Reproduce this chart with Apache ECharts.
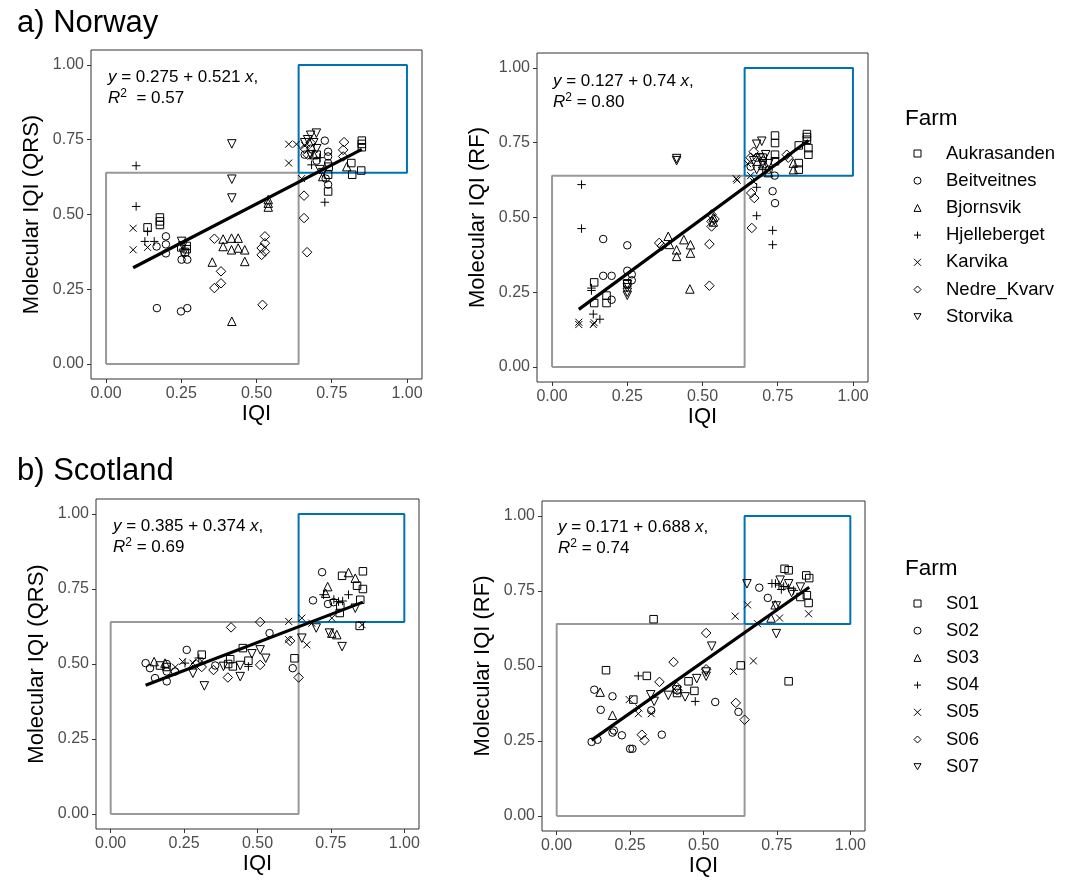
<!DOCTYPE html>
<html><head><meta charset="utf-8">
<script src="https://cdn.jsdelivr.net/npm/echarts@6/dist/echarts.min.js"></script>
<style>html,body{margin:0;padding:0;background:#fff}#c{width:1069px;height:884px}</style>
</head><body><div id="c"></div>
<script>
// ---------- data ----------
const norwayFarms = ['Aukrasanden','Beitveitnes','Bjornsvik','Hjelleberget','Karvika','Nedre_Kvarv','Storvika'];
const scotlandFarms = ['S01','S02','S03','S04','S05','S06','S07'];
const tickValues = [0, 0.25, 0.5, 0.75, 1];
const lowBox = [0, 0.64];   // IQI / molecular IQI range of the grey box
const highBox = [0.64, 1];  // range of the blue box
// regression coefficients [intercept, slope, R2]
const fitNorwayQRS = [0.275, 0.521, '0.57'];
const fitNorwayRF = [0.127, 0.74, '0.80'];
const fitScotlandQRS = [0.385, 0.374, '0.69'];
const fitScotlandRF = [0.171, 0.688, '0.74'];

// rows: [IQI, molecular IQI, farm index]
const norwayQRS = [
 [0.138,0.457,0],[0.179,0.490,0],[0.179,0.477,0],[0.179,0.465,0],[0.25,0.39,0],[0.268,0.384,0],[0.268,0.395,0],[0.262,0.375,0],
 [0.738,0.633,0],[0.738,0.577,0],[0.85,0.747,0],[0.85,0.736,0],[0.85,0.725,0],[0.815,0.672,0],[0.818,0.633,0],[0.848,0.647,0],[0.74,0.66,0],[0.70,0.70,0],
 [0.168,0.393,1],[0.199,0.427,1],[0.199,0.40,1],[0.199,0.37,1],[0.169,0.187,1],[0.249,0.176,1],[0.27,0.187,1],[0.251,0.349,1],[0.27,0.349,1],
 [0.727,0.747,1],[0.738,0.71,1],[0.738,0.694,1],[0.738,0.672,1],[0.73,0.62,1],[0.738,0.60,1],[0.68,0.72,1],[0.70,0.68,1],[0.66,0.70,1],
 [0.389,0.418,2],[0.389,0.393,2],[0.417,0.421,2],[0.417,0.382,2],[0.439,0.421,2],[0.439,0.388,2],[0.461,0.382,2],[0.353,0.341,2],[0.461,0.343,2],
 [0.418,0.143,2],[0.539,0.538,2],[0.539,0.525,2],[0.539,0.550,2],[0.80,0.66,2],[0.72,0.627,2],[0.69,0.70,2],
 [0.10,0.663,3],[0.10,0.527,3],[0.138,0.443,3],[0.129,0.41,3],[0.16,0.41,3],[0.727,0.541,3],[0.683,0.666,3],[0.71,0.69,3],
 [0.09,0.454,4],[0.09,0.382,4],[0.138,0.39,4],[0.607,0.735,4],[0.607,0.672,4],[0.633,0.735,4],[0.66,0.73,4],[0.65,0.62,4],
 [0.36,0.419,5],[0.382,0.31,5],[0.382,0.27,5],[0.36,0.254,5],[0.528,0.427,5],[0.528,0.404,5],[0.517,0.388,5],[0.528,0.376,5],[0.517,0.365,5],
 [0.52,0.198,5],[0.658,0.563,5],[0.658,0.488,5],[0.668,0.374,5],[0.791,0.742,5],[0.788,0.716,5],[0.788,0.694,5],[0.66,0.72,5],[0.67,0.70,5],[0.68,0.74,5],
 [0.251,0.41,6],[0.257,0.37,6],[0.255,0.395,6],[0.418,0.736,6],[0.418,0.618,6],[0.418,0.555,6],[0.699,0.772,6],[0.68,0.765,6],[0.67,0.75,6],
 [0.69,0.74,6],[0.70,0.72,6],[0.68,0.70,6],[0.71,0.65,6],[0.72,0.64,6],[0.66,0.74,6]
];
const norwayRF = [
 [0.14,0.283,0],[0.14,0.214,0],[0.181,0.239,0],[0.181,0.214,0],[0.741,0.774,0],[0.741,0.749,0],[0.741,0.71,0],[0.741,0.688,0],[0.847,0.779,0],
 [0.847,0.769,0],[0.847,0.76,0],[0.82,0.741,0],[0.852,0.732,0],[0.852,0.71,0],[0.82,0.682,0],[0.82,0.66,0],[0.25,0.28,0],[0.70,0.70,0],
 [0.17,0.428,1],[0.25,0.407,1],[0.17,0.305,1],[0.198,0.305,1],[0.25,0.322,1],[0.265,0.31,1],[0.265,0.29,1],[0.198,0.225,1],[0.733,0.588,1],
 [0.741,0.548,1],[0.72,0.66,1],[0.70,0.69,1],[0.68,0.70,1],[0.66,0.67,1],[0.74,0.64,1],
 [0.386,0.437,2],[0.39,0.41,2],[0.414,0.392,2],[0.414,0.37,2],[0.438,0.426,2],[0.46,0.409,2],[0.46,0.381,2],[0.458,0.261,2],[0.536,0.50,2],
 [0.536,0.485,2],[0.802,0.682,2],[0.802,0.66,2],[0.70,0.68,2],[0.72,0.65,2],
 [0.098,0.61,3],[0.098,0.463,3],[0.131,0.264,3],[0.131,0.256,3],[0.137,0.177,3],[0.159,0.16,3],[0.68,0.506,3],[0.733,0.457,3],[0.733,0.409,3],
 [0.68,0.601,3],[0.70,0.66,3],
 [0.089,0.150,4],[0.089,0.142,4],[0.137,0.142,4],[0.14,0.148,4],[0.612,0.63,4],[0.615,0.625,4],[0.65,0.68,4],[0.66,0.64,4],[0.67,0.62,4],
 [0.356,0.415,5],[0.365,0.405,5],[0.523,0.411,5],[0.523,0.272,5],[0.664,0.465,5],[0.662,0.582,5],[0.672,0.565,5],[0.53,0.51,5],[0.53,0.487,5],
 [0.53,0.47,5],[0.54,0.495,5],[0.785,0.70,5],[0.78,0.71,5],[0.66,0.70,5],[0.67,0.72,5],
 [0.414,0.697,6],[0.414,0.690,6],[0.25,0.25,6],[0.25,0.265,6],[0.25,0.275,6],[0.25,0.24,6],[0.697,0.755,6],[0.68,0.745,6],[0.69,0.70,6],
 [0.70,0.68,6],[0.67,0.69,6],[0.71,0.71,6],[0.72,0.68,6],[0.68,0.66,6]
];
const scotlandQRS = [
 [0.168,0.495,0],[0.31,0.531,0],[0.407,0.516,0],[0.416,0.492,0],[0.45,0.553,0],[0.469,0.511,0],[0.626,0.519,0],[0.788,0.794,0],[0.859,0.809,0],
 [0.839,0.761,0],[0.859,0.75,0],[0.85,0.714,0],[0.78,0.67,0],[0.848,0.627,0],[0.782,0.692,0],[0.19,0.49,0],[0.40,0.50,0],
 [0.119,0.503,1],[0.134,0.486,1],[0.151,0.453,1],[0.191,0.50,1],[0.191,0.475,1],[0.191,0.442,1],[0.219,0.475,1],[0.259,0.547,1],[0.356,0.495,1],
 [0.541,0.603,1],[0.62,0.486,1],[0.72,0.806,1],[0.689,0.712,1],[0.759,0.706,1],[0.74,0.70,1],
 [0.148,0.508,2],[0.185,0.503,2],[0.739,0.758,2],[0.732,0.736,2],[0.81,0.805,2],[0.833,0.786,2],[0.753,0.603,2],[0.77,0.598,2],
 [0.253,0.503,3],[0.469,0.492,3],[0.725,0.731,3],[0.776,0.708,3],[0.81,0.731,3],[0.76,0.715,3],[0.79,0.71,3],[0.30,0.52,3],
 [0.245,0.508,4],[0.28,0.503,4],[0.606,0.642,4],[0.651,0.653,4],[0.685,0.636,4],[0.668,0.564,4],[0.606,0.581,4],[0.856,0.631,4],[0.753,0.653,4],
 [0.31,0.51,4],[0.22,0.49,4],
 [0.41,0.622,5],[0.509,0.64,5],[0.399,0.455,5],[0.509,0.497,5],[0.611,0.577,5],[0.64,0.455,5],[0.35,0.48,5],[0.31,0.49,5],[0.29,0.50,5],
 [0.319,0.427,6],[0.28,0.469,6],[0.384,0.492,6],[0.441,0.495,6],[0.441,0.458,6],[0.481,0.534,6],[0.509,0.547,6],[0.528,0.519,6],[0.651,0.586,6],
 [0.745,0.603,6],[0.788,0.558,6],[0.833,0.686,6],[0.70,0.62,6]
];
const scotlandRF = [
 [0.168,0.486,0],[0.307,0.467,0],[0.261,0.388,0],[0.409,0.422,0],[0.449,0.449,0],[0.469,0.417,0],[0.627,0.502,0],[0.33,0.656,0],[0.79,0.449,0],
 [0.776,0.824,0],[0.79,0.819,0],[0.85,0.802,0],[0.86,0.793,0],[0.852,0.736,0],[0.858,0.71,0],[0.83,0.73,0],[0.41,0.41,0],
 [0.119,0.247,1],[0.139,0.254,1],[0.128,0.421,1],[0.19,0.399,1],[0.15,0.354,1],[0.19,0.278,1],[0.222,0.269,1],[0.25,0.224,1],[0.258,0.224,1],
 [0.322,0.352,1],[0.358,0.271,1],[0.54,0.38,1],[0.619,0.347,1],[0.69,0.761,1],[0.719,0.727,1],[0.195,0.285,1],
 [0.148,0.413,2],[0.19,0.336,2],[0.744,0.704,2],[0.73,0.66,2],
 [0.278,0.467,3],[0.472,0.382,3],[0.733,0.775,3],[0.745,0.775,3],[0.757,0.77,3],[0.773,0.765,3],[0.79,0.76,3],[0.807,0.752,3],[0.765,0.755,3],
 [0.247,0.388,4],[0.278,0.341,4],[0.322,0.341,4],[0.602,0.482,4],[0.67,0.517,4],[0.608,0.666,4],[0.65,0.704,4],[0.684,0.641,4],[0.759,0.66,4],
 [0.858,0.674,4],[0.28,0.36,4],
 [0.29,0.271,5],[0.299,0.252,5],[0.35,0.447,5],[0.398,0.513,5],[0.411,0.419,5],[0.509,0.61,5],[0.509,0.489,5],[0.61,0.377,5],[0.64,0.321,5],[0.409,0.43,5],
 [0.32,0.404,6],[0.332,0.382,6],[0.38,0.402,6],[0.4375,0.397,6],[0.477,0.458,6],[0.509,0.466,6],[0.528,0.566,6],[0.648,0.774,6],[0.748,0.70,6],
 [0.748,0.608,6],[0.761,0.786,6],[0.79,0.774,6],[0.83,0.763,6],[0.80,0.745,6],[0.509,0.48,6]
];

// ---------- styling ----------
const FONT = '"Liberation Sans", Arial, Helvetica, sans-serif';
const shapes = ['rect','circle','triangle','path://M5,0L5,10M0,5L10,5','path://M0,0L10,10M0,10L10,0','diamond','path://M0,0L10,0L5,8.66Z'];
const sizes = [7.5,7.5,8.5,8.5,7,9.5,8.5];

const panels = [
  {data: norwayQRS, farms: norwayFarms, fit: fitNorwayQRS, yName: 'Molecular IQI (QRS)', grid: {left: 91, top: 50, width: 331, height: 329}, ann: [108, 67], spaceR: true},
  {data: norwayRF, farms: norwayFarms, fit: fitNorwayRF, yName: 'Molecular IQI (RF)', grid: {left: 537, top: 53, width: 331, height: 329}, ann: [553, 71]},
  {data: scotlandQRS, farms: scotlandFarms, fit: fitScotlandQRS, yName: 'Molecular IQI (QRS)', grid: {left: 96, top: 499, width: 323, height: 330}, ann: [113, 516]},
  {data: scotlandRF, farms: scotlandFarms, fit: fitScotlandRF, yName: 'Molecular IQI (RF)', grid: {left: 542, top: 501, width: 323, height: 330}, ann: [558, 517]}
];

const grids = [], xAxes = [], yAxes = [], series = [], graphics = [];
panels.forEach((p, i) => {
  grids.push(Object.assign({show: true, borderColor: '#333', borderWidth: 1, backgroundColor: '#fff', containLabel: false}, p.grid));
  const axisCommon = {
    gridIndex: i, type: 'value', min: -0.05, max: 1.05,
    splitLine: {show: false},
    axisLine: {show: false, onZero: false},
    axisTick: {show: true, length: 4, lineStyle: {color: '#333'}, customValues: tickValues},
    axisLabel: {customValues: tickValues, formatter: v => v.toFixed(2), color: '#4d4d4d', fontSize: 16, fontFamily: FONT, margin: 7},
    nameLocation: 'middle',
    nameTextStyle: {fontSize: 22, fontFamily: FONT, color: '#000'}
  };
  xAxes.push(Object.assign({}, axisCommon, {name: 'IQI', nameGap: 23}));
  yAxes.push(Object.assign({}, axisCommon, {name: p.yName, nameGap: 48}));

  const boxLine = (r, color) => ({
    type: 'line', xAxisIndex: i, yAxisIndex: i, silent: true, symbol: 'none', z: 3,
    lineStyle: {color: color, width: 2},
    data: [[r[0], r[0]], [r[1], r[0]], [r[1], r[1]], [r[0], r[1]], [r[0], r[0]]]
  });
  series.push(boxLine(lowBox, '#999999'));
  series.push(boxLine(highBox, '#0072B2'));

  p.farms.forEach((f, k) => {
    series.push({
      type: 'scatter', name: f, xAxisIndex: i, yAxisIndex: i,
      symbol: shapes[k], symbolSize: sizes[k], z: 4,
      itemStyle: {color: 'none', borderColor: '#000', borderWidth: 1, opacity: 1},
      data: p.data.filter(d => d[2] === k).map(d => [d[0], d[1]])
    });
  });

  const xs = p.data.map(d => d[0]);
  const x0 = Math.min(...xs), x1 = Math.max(...xs);
  series.push({
    type: 'line', xAxisIndex: i, yAxisIndex: i, silent: true, symbol: 'none', z: 5,
    lineStyle: {color: '#000', width: 3.2},
    data: [[x0, p.fit[0] + p.fit[1] * x0], [x1, p.fit[0] + p.fit[1] * x1]]
  });

  graphics.push({
    type: 'text', left: p.ann[0], top: p.ann[1], z: 10,
    style: {
      text: '{i|y}{n| = ' + p.fit[0].toFixed(3) + ' + ' + String(p.fit[1]) + ' }{i|x}{n|,}\n{i|R}{s|2}{n|' + (p.spaceR ? '  = ' : ' = ') + p.fit[2] + '}',
      fontFamily: FONT, fontSize: 17, lineHeight: 21, fill: '#000',
      rich: {
        i: {fontStyle: 'italic', fontSize: 17, fontFamily: FONT, fill: '#000', lineHeight: 21},
        n: {fontSize: 17, fontFamily: FONT, fill: '#000', lineHeight: 21},
        s: {fontSize: 12, fontFamily: FONT, fill: '#000', verticalAlign: 'top', lineHeight: 21}
      }
    }
  });
});

graphics.push({type: 'text', left: 17, top: 8, style: {text: 'a) Norway', fontSize: 31, fontFamily: FONT, fill: '#000'}});
graphics.push({type: 'text', left: 17, top: 456, style: {text: 'b) Scotland', fontSize: 31, fontFamily: FONT, fill: '#000'}});
graphics.push({type: 'text', left: 905, top: 107, style: {text: 'Farm', fontSize: 22.5, fontFamily: FONT, fill: '#000'}});
graphics.push({type: 'text', left: 905, top: 557, style: {text: 'Farm', fontSize: 22.5, fontFamily: FONT, fill: '#000'}});

const legendCommon = {
  orient: 'vertical', itemWidth: 7, itemHeight: 7, itemGap: 8.2, selectedMode: false, padding: 0,
  itemStyle: {color: 'none', borderColor: '#000', borderWidth: 1},
  textStyle: {fontSize: 18.5, lineHeight: 19, fontFamily: FONT, color: '#000', padding: [0, 0, 0, 20]}
};

const chart = echarts.init(document.getElementById('c'), null, {renderer: 'canvas'});
chart.setOption({
  backgroundColor: '#fff',
  animation: false,
  grid: grids, xAxis: xAxes, yAxis: yAxes, series: series,
  legend: [
    Object.assign({}, legendCommon, {data: norwayFarms, left: 911.5, top: 144}),
    Object.assign({}, legendCommon, {data: scotlandFarms, left: 911.5, top: 594})
  ],
  graphic: graphics
});
</script></body></html>
